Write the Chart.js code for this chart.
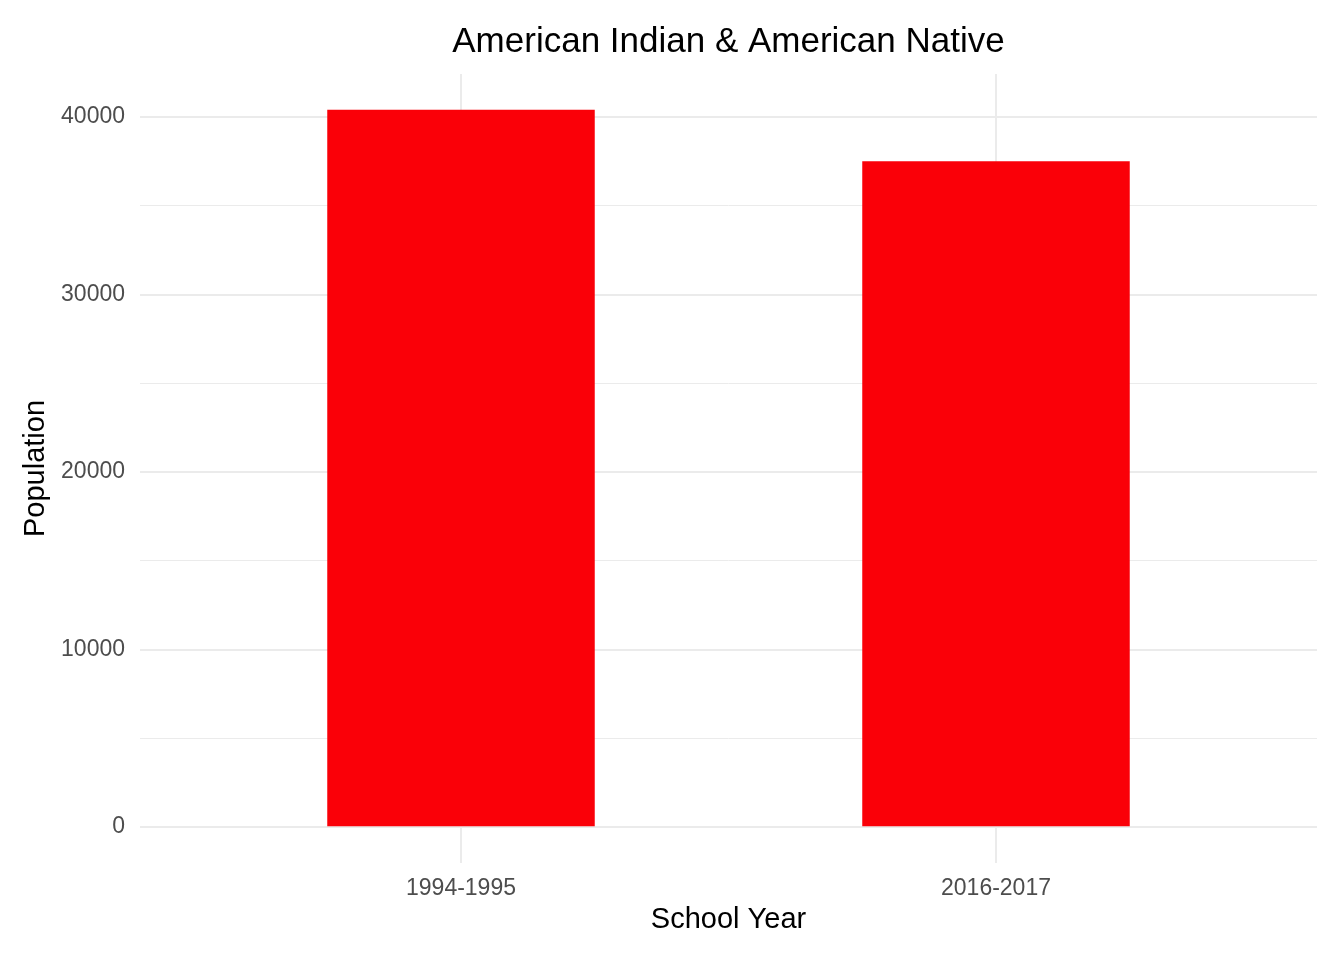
<!DOCTYPE html>
<html>
<head>
<meta charset="utf-8">
<title>American Indian & American Native</title>
<script src="https://cdn.jsdelivr.net/npm/chart.js@4"></script>
<style>
  body { margin: 0; background: #fff; }
  #wrap { width: 1344px; height: 960px; }
</style>
</head>
<body>
<div id="wrap"><canvas id="myChart"></canvas></div>
<script>
// data
const categories = ['1994-1995', '2016-2017'];
const population = [40400, 37500];

// y gridlines: labelled majors and unlabelled minors
const majorTicks = [0, 10000, 20000, 30000, 40000];
const minorTicks = [5000, 15000, 25000, 35000];

const FONT = '"Liberation Sans", Arial, Helvetica, sans-serif';
const GRID = '#EBEBEB';

const data = {
  datasets: [{
    label: 'Population',
    backgroundColor: '#FA0008',
    borderWidth: 0,
    categoryPercentage: 1,
    barPercentage: 0.5,
    data: population.map((v, i) => ({ x: i, y: v }))
  }]
};

const config = {
  type: 'bar',
  data,
  options: {
    responsive: true,
    maintainAspectRatio: false,
    animation: false,
    layout: { padding: { left: 0, right: 27, top: 0, bottom: 0 } },
    plugins: {
      legend: { display: false },
      tooltip: { enabled: false },
      title: {
        display: true,
        fullSize: false,
        text: 'American Indian & American Native',
        color: '#000',
        font: { family: FONT, size: 35, weight: 'normal', lineHeight: 1.2 },
        padding: { top: 21, bottom: 11 }
      }
    },
    scales: {
      x: {
        type: 'linear',
        offset: false,
        min: -0.6,
        max: 1.6,
        afterBuildTicks: (scale) => {
          scale.ticks = categories.map((c, i) => ({ value: i }));
        },
        afterFit: (scale) => { scale.height = 97; },
        ticks: {
          autoSkip: false,
          padding: 12,
          color: '#4D4D4D',
          font: { family: FONT, size: 23 },
          callback: (v) => categories[v]
        },
        grid: { offset: false, color: GRID, lineWidth: 2, drawTicks: false },
        border: { display: false },
        title: {
          display: true,
          text: 'School Year',
          color: '#000',
          font: { family: FONT, size: 29, lineHeight: 1.2 },
          padding: { top: 0, bottom: 23 }
        }
      },
      y: {
        min: -2020,
        max: 42420,
        afterBuildTicks: (scale) => {
          scale.ticks = majorTicks.concat(minorTicks)
            .sort((a, b) => a - b)
            .map(v => ({ value: v }));
        },
        afterFit: (scale) => { scale.width = 140; },
        ticks: {
          autoSkip: false,
          padding: 15,
          color: '#4D4D4D',
          font: { family: FONT, size: 23 },
          callback: (v) => majorTicks.includes(v) ? String(v) : ''
        },
        grid: {
          color: GRID,
          drawTicks: false,
          lineWidth: (ctx) => ctx.tick && majorTicks.includes(ctx.tick.value) ? 2 : 1
        },
        border: { display: false },
        title: {
          display: true,
          text: 'Population',
          color: '#000',
          font: { family: FONT, size: 29, lineHeight: 1.2 },
          padding: { top: 19, bottom: 0 }
        }
      }
    }
  }
};

var myChart = new Chart(document.getElementById('myChart'), config);
</script>
</body>
</html>
